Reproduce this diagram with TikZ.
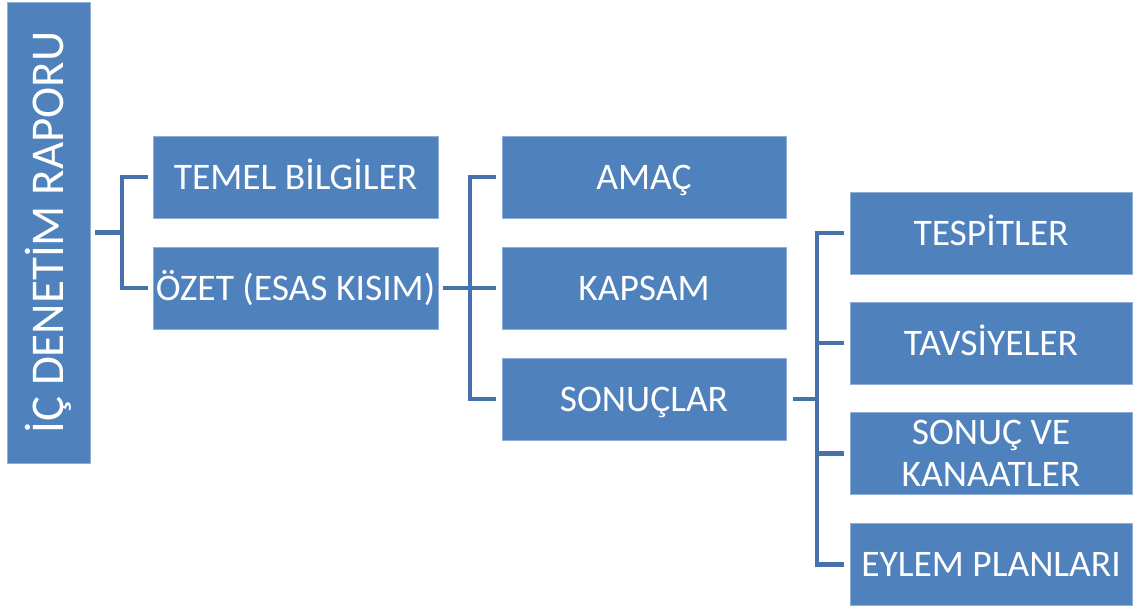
\documentclass[tikz,border=0pt]{standalone}
\usepackage{fontspec}
\setmainfont{Carlito}
\definecolor{boxblue}{HTML}{4F81BD}
\definecolor{linkblue}{HTML}{4671AA}
\definecolor{edgeblue}{HTML}{8FAFD8}
\begin{document}
\begin{tikzpicture}[x=1pt,y=-1pt,
  box/.style={rectangle, fill=boxblue, draw=edgeblue, line width=0.8pt, text=white,
    minimum width=284pt, minimum height=82pt, inner sep=2pt, outer sep=0pt,
    text height=24pt, text depth=0pt,
    align=center, font=\fontsize{37.5}{42}\selectfont},
  conn/.style={draw=linkblue, line width=4.5pt, line cap=butt, line join=miter}]
\useasboundingbox (0,0) rectangle (1134,607);
% root
\node[box, minimum width=83pt, minimum height=461pt] (root) at (48.5,232.5) {};
\node[rotate=90, text=white, font=\fontsize{47}{52}\selectfont, inner sep=0pt,
  text height=30pt, text depth=0pt] (roottext) at (root.center) {İÇ DENETİM RAPORU};
% level 1
\node[box, minimum width=285pt] (temel) at (295.5,177) {TEMEL BİLGİLER};
\node[box, minimum width=285pt] (ozet) at (295.5,288) {ÖZET (ESAS KISIM)};
% level 2
\node[box] (amac) at (644,177) {AMAÇ};
\node[box] (kapsam) at (644,288) {KAPSAM};
\node[box] (sonuclar) at (644,399) {SONUÇLAR};
% level 3
\node[box, minimum width=282pt] (tespit) at (991,233) {TESPİTLER};
\node[box, minimum width=282pt] (tavsiye) at (991,343) {TAVSİYELER};
\node[box, minimum width=282pt, text height=66pt] (kanaat) at (991,453.5) {SONUÇ VE\\KANAATLER};
\node[box, minimum width=282pt] (eylem) at (991,564.5) {EYLEM PLANLARI};
% junctions
\coordinate (j1) at (122,232.5);
\coordinate (j2) at (470,288);
\coordinate (j3) at (817,399);
% connectors
\draw[conn] ([xshift=5]root.east) -- (j1);
\draw[conn] (j1) |- ([xshift=-5]temel.west);
\draw[conn] (j1) |- ([xshift=-5]ozet.west);
\draw[conn] ([xshift=5]ozet.east) -- (j2);
\draw[conn] (j2) |- ([xshift=-6]amac.west);
\draw[conn] (j2) -- ([xshift=-6]kapsam.west);
\draw[conn] (j2) |- ([xshift=-6]sonuclar.west);
\draw[conn] ([xshift=7]sonuclar.east) -- (j3);
\draw[conn] (j3) |- ([xshift=-6]tespit.west);
\draw[conn] (j3) |- ([xshift=-6]tavsiye.west);
\draw[conn] (j3) |- ([xshift=-6]kanaat.west);
\draw[conn] (j3) |- ([xshift=-6]eylem.west);
\end{tikzpicture}
\end{document}
